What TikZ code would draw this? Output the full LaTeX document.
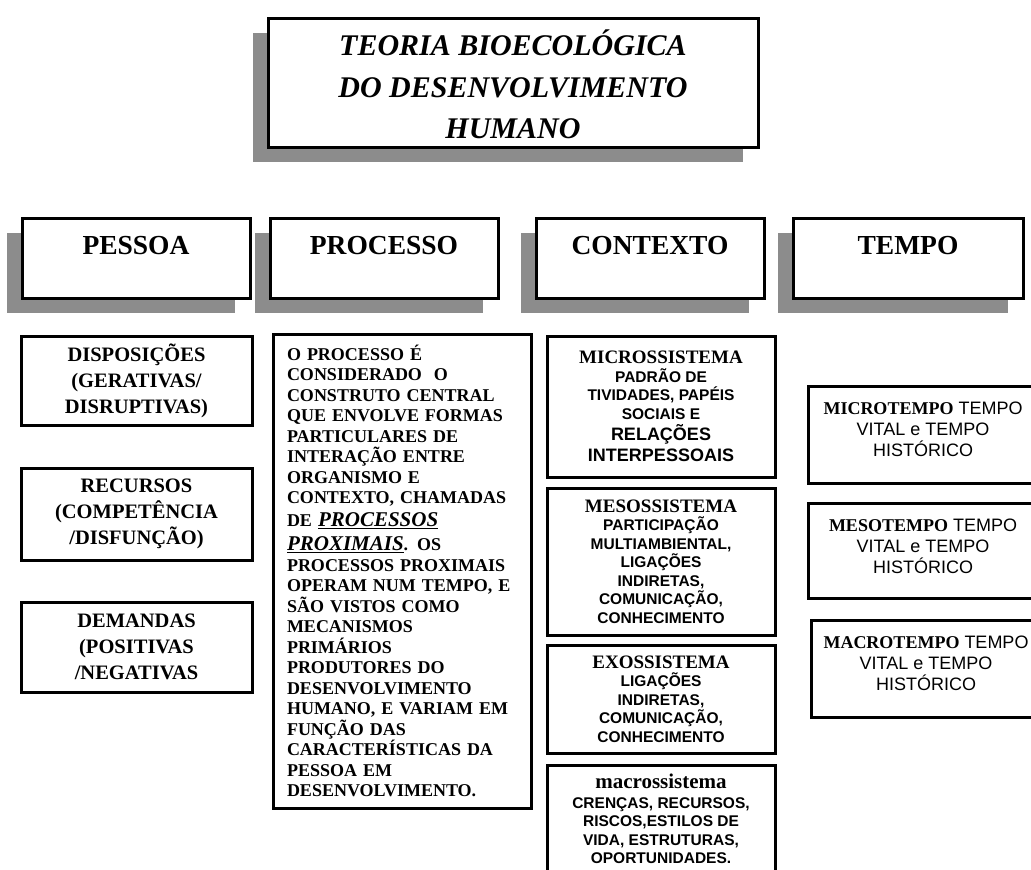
\documentclass[tikz,border=0pt]{standalone}
\usepackage{fontspec}
\setmainfont{Liberation Serif}
\setsansfont{Liberation Sans}
\usetikzlibrary{positioning,shadows}

\newcommand{\sysname}[1]{{\rmfamily\fontsize{19}{20}\selectfont #1}}
\newcommand{\tname}[1]{{\rmfamily\bfseries #1}}

\begin{document}
\begin{tikzpicture}[x=1pt,y=-1pt,
    frame/.style={draw,fill=white,line width=3pt,inner sep=0pt,align=center,anchor=north west},
    shade/.style={drop shadow={shadow xshift=-15pt,shadow yshift=-15pt,opacity=1,fill=black!45}},
    titlebox/.style={frame,shade,minimum width=490pt,text height=120.5pt,text depth=8.5pt,
        font=\fontsize{30}{41.5}\selectfont\bfseries\itshape},
    hdrbox/.style={frame,shade,minimum width=228pt,text height=36.5pt,text depth=43.5pt,
        font=\fontsize{27.5}{32}\selectfont\bfseries},
    pbox/.style={frame,minimum width=231pt,font=\fontsize{20.5}{26}\selectfont\bfseries},
    procbox/.style={frame,minimum width=258pt,minimum height=474pt,text width=230pt,align=left,
        font=\fontsize{18}{20.5}\selectfont\bfseries},
    ctxbox/.style={frame,minimum width=228pt,font=\sffamily\fontsize{15.5}{18.5}\selectfont\bfseries},
    tbox/.style={frame,minimum width=230pt,text height=70.5pt,text depth=26.5pt,
        font=\sffamily\fontsize{18}{21}\selectfont}
]
\useasboundingbox (0,0) rectangle (1031,870);

% titulo
\node[titlebox] (title) at (266.5,16.5) {TEORIA BIOECOLÓGICA\\DO DESENVOLVIMENTO\\HUMANO};

% cabecalhos
\node[hdrbox] (pessoa)   at (20.5,216.5)  {PESSOA};
\node[hdrbox] (processo) at (268.5,216.5) {PROCESSO};
\node[hdrbox] (contexto) at (534.5,216.5) {CONTEXTO};
\node[hdrbox,minimum width=230pt] (tempo) at (791.5,216.5) {TEMPO};

% pessoa
\node[pbox,minimum height=89pt] (disp)     at (19.5,334.5) {DISPOSIÇÕES\\(GERATIVAS/\\DISRUPTIVAS)};
\node[pbox,minimum height=92pt] (recursos) at (19.5,466.5) {RECURSOS\\(COMPETÊNCIA\\/DISFUNÇÃO)};
\node[pbox,minimum height=90pt] (demandas) at (19.5,600.5) {DEMANDAS\\(POSITIVAS\\/NEGATIVAS};

% processo
\node[procbox] (proc) at (271.5,332.5) {O PROCESSO É\\CONSIDERADO\ \ O\\CONSTRUTO CENTRAL\\QUE ENVOLVE FORMAS\\PARTICULARES DE\\INTERAÇÃO ENTRE\\ORGANISMO E\\CONTEXTO, CHAMADAS\\[2pt]
    DE {\fontsize{21}{24}\selectfont\itshape\underline{PROCESSOS}}\\[4pt]
    {\fontsize{21}{24}\selectfont\itshape\underline{PROXIMAIS}}. OS\\PROCESSOS PROXIMAIS\\OPERAM NUM TEMPO, E\\SÃO VISTOS COMO\\MECANISMOS\\PRIMÁRIOS\\PRODUTORES DO\\DESENVOLVIMENTO\\HUMANO, E VARIAM EM\\FUNÇÃO DAS\\CARACTERÍSTICAS DA\\PESSOA EM\\DESENVOLVIMENTO.};

% contexto
\node[ctxbox,minimum height=141pt] (micro) at (545.5,334.5) {\sysname{MICROSSISTEMA}\\PADRÃO DE\\TIVIDADES, PAPÉIS\\SOCIAIS E\\[3pt]
    {\fontsize{18}{21}\selectfont RELAÇÕES}\\[2pt]{\fontsize{18}{21}\selectfont INTERPESSOAIS}};
\node[ctxbox,minimum height=147pt] (meso) at (545.5,486.5) {\sysname{MESOSSISTEMA}\\PARTICIPAÇÃO\\MULTIAMBIENTAL,\\LIGAÇÕES\\INDIRETAS,\\COMUNICAÇÃO,\\CONHECIMENTO};
\node[ctxbox,minimum height=108pt] (exo) at (545.5,643.5) {\sysname{EXOSSISTEMA}\\LIGAÇÕES\\INDIRETAS,\\COMUNICAÇÃO,\\CONHECIMENTO};
\node[ctxbox,text height=98.5pt,text depth=40pt] (macro) at (545.5,763.5) {{\rmfamily\fontsize{21}{22}\selectfont macrossistema}\\[1pt]CRENÇAS, RECURSOS,\\RISCOS,ESTILOS DE\\VIDA, ESTRUTURAS,\\OPORTUNIDADES.};

% tempo
\node[tbox] (microt) at (806.5,384.5) {\tname{MICROTEMPO} TEMPO\\VITAL e TEMPO\\HISTÓRICO};
\node[tbox,text depth=24.5pt] (mesot) at (806.5,501.5) {\tname{MESOTEMPO} TEMPO\\VITAL e TEMPO\\HISTÓRICO};
\node[tbox] (macrot) at (809.5,618.5) {\tname{MACROTEMPO} TEMPO\\VITAL e TEMPO\\HISTÓRICO};
\end{tikzpicture}
\end{document}
